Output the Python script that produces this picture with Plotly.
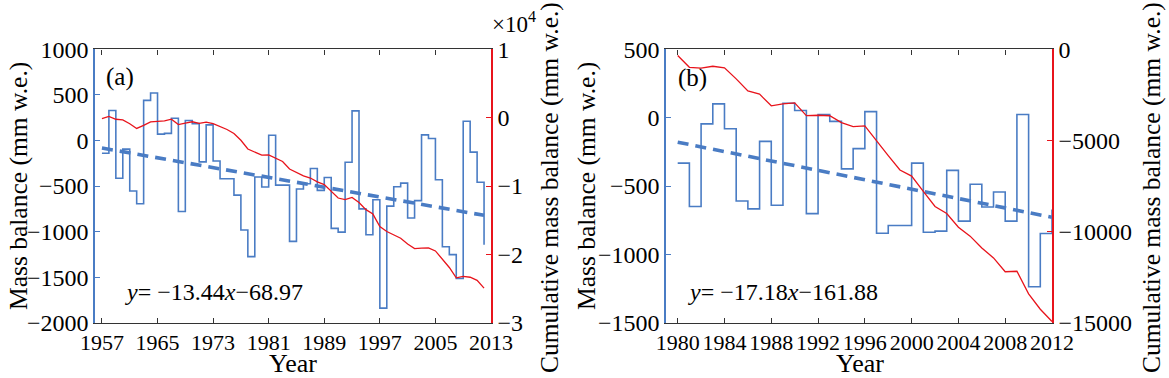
import plotly.graph_objects as go

# ---------------- data ----------------
years_a = list(range(1957, 2013))
mb_a = [-140, 330, -415, -95, -555, -695, 440, 522, 70, 78,
        245, -780, 220, 185, -235, 172, -225, -420, -420, -600,
        -982, -1275, -400, -510, 58, -490, -490, -1107, -532, -475,
        -307, -548, -406, -965, -1006, -239, 325, -750, -1034, -650,
        -1840, -720, -508, -468, -851, -660, 62, 22, -431, -1167,
        -1253, -1515, 212, -128, -458, -1143]
cum_a = [-140, 190, -225, -320, -875, -1570, -1130, -608, -538, -460,
         -215, -995, -775, -590, -825, -653, -878, -1298, -1718, -2318,
         -3300, -4575, -4975, -5485, -5427, -5917, -6407, -7514, -8046, -8521,
         -8828, -9376, -9782, -10747, -11753, -11992, -11667, -12417, -13451, -14101,
         -15941, -16661, -17169, -17637, -18488, -19148, -19086, -19064, -19495, -20662,
         -21915, -23430, -23218, -23346, -23804, -24947]
slope_a, icpt_a = -13.44, -68.97

years_b = list(range(1980, 2013))
mb_b = [-332, -650, -45, 101, -81, -609, -667, -173, -640, 106,
        53, -702, 24, -27, -374, -226, 45, -845, -789, -789,
        -332, -838, -830, -385, -757, -487, -653, -543, -757, 24,
        -1237, -847, -672]
cum_b = [-332, -982, -1027, -926, -1007, -1616, -2283, -2456, -3096, -2990,
         -2937, -3639, -3615, -3642, -4016, -4242, -4197, -5042, -5831, -6620,
         -6952, -7790, -8620, -9005, -9762, -10249, -10902, -11445, -12202, -12178,
         -13415, -14262, -14934]
slope_b, icpt_b = -17.18, -161.88

right_a_vals = [-30000, -20000, -10000, 0, 10000]
right_a_text = ["\u22123", "\u22122", "\u22121", "0", "1"]

# ---------------- style ----------------
W, H = 1169, 378
FONT = "Liberation Serif, Times New Roman, serif"
BLUE = "#4a7cc4"
RED = "#e8141c"
DARK = "#333333"
XTICK = 22
YTICK = 24
TITLE = 25.5

def px_x(p):
    return p / W

def px_y(p):
    return (H - p) / H

ydom = [px_y(322.7), px_y(49.4)]
xdom_a = [px_x(95), px_x(491)]
xdom_b = [px_x(666), px_x(1052)]

fig = go.Figure()

# panel a
fig.add_trace(go.Scatter(x=years_a, y=mb_a, mode="lines", line=dict(color=BLUE, width=1.6, shape="hv"),
                         xaxis="x", yaxis="y"))
fig.add_trace(go.Scatter(x=[years_a[0], years_a[-1]],
                         y=[slope_a * 1 + icpt_a, slope_a * len(years_a) + icpt_a],
                         mode="lines", line=dict(color=BLUE, width=3.6, dash="11px,7px"),
                         xaxis="x", yaxis="y"))
fig.add_trace(go.Scatter(x=years_a, y=cum_a, mode="lines", line=dict(color=RED, width=1.3),
                         xaxis="x", yaxis="y2"))

# panel b
fig.add_trace(go.Scatter(x=years_b, y=mb_b, mode="lines", line=dict(color=BLUE, width=1.6, shape="hv"),
                         xaxis="x2", yaxis="y3"))
fig.add_trace(go.Scatter(x=[years_b[0], years_b[-1]],
                         y=[slope_b * 1 + icpt_b, slope_b * len(years_b) + icpt_b],
                         mode="lines", line=dict(color=BLUE, width=3.6, dash="11px,7px"),
                         xaxis="x2", yaxis="y3"))
fig.add_trace(go.Scatter(x=years_b, y=cum_b, mode="lines", line=dict(color=RED, width=1.3),
                         xaxis="x2", yaxis="y4"))

xcommon = dict(showline=True, linecolor=DARK, linewidth=1.2, mirror="ticks", ticks="inside",
               ticklen=5, tickcolor=DARK, showgrid=False, zeroline=False, automargin=False,
               tickangle=0, tickfont=dict(family=FONT, size=XTICK, color="black"))
ycommon = dict(showline=True, linewidth=1.5, ticks="inside", ticklen=5, showgrid=False,
               zeroline=False, automargin=False, tickformat="d",
               tickfont=dict(family=FONT, size=YTICK, color="black"))

fig.update_layout(
    template="none",
    width=W, height=H, margin=dict(l=0, r=0, t=0, b=0, autoexpand=False),
    paper_bgcolor="white", plot_bgcolor="white", showlegend=False,
    font=dict(family=FONT, color="black"),
    xaxis=dict(domain=xdom_a, range=[1956, 2013], tick0=1957, dtick=8, anchor="y", **xcommon),
    yaxis=dict(domain=ydom, range=[-2000, 1000], dtick=500, anchor="x",
               linecolor=BLUE, tickcolor=BLUE, **ycommon),
    yaxis2=dict(range=[-30000, 10000], tickvals=right_a_vals, ticktext=right_a_text,
                overlaying="y", side="right", anchor="x",
                linecolor=RED, tickcolor=RED, **ycommon),
    xaxis2=dict(domain=xdom_b, range=[1979, 2012], tick0=1980, dtick=4, anchor="y3", **xcommon),
    yaxis3=dict(domain=ydom, range=[-1500, 500], dtick=500, anchor="x2",
                linecolor=BLUE, tickcolor=BLUE, **ycommon),
    yaxis4=dict(range=[-15000, 0], dtick=5000, overlaying="y3", side="right", anchor="x2",
                linecolor=RED, tickcolor=RED, **ycommon),
)

def ann(text, x, y, size, angle=0, xanchor="center"):
    fig.add_annotation(text=text, x=px_x(x), y=px_y(y), xref="paper", yref="paper",
                       showarrow=False, textangle=angle, xanchor=xanchor, yanchor="middle",
                       font=dict(family=FONT, size=size, color="black"))

# axis titles
ann("Mass balance (mm w.e.)", 18, 186, TITLE, -90)
ann("Cumulative mass balance (mm w.e.)", 549, 188, TITLE, -90)
ann("Mass balance (mm w.e.)", 586, 186, TITLE, -90)
ann("Cumulative mass balance (mm w.e.)", 1151, 188, TITLE, -90)
ann("Year", 293, 363, 26)
ann("Year", 860, 363, 26)

# panel labels, equations, exponent
ann("(a)", 120, 77, 25)
ann("(b)", 692, 78, 25)
ann("<i>y</i>= \u221213.44<i>x</i>\u221268.97", 123, 292, 24, xanchor="left")
ann("<i>y</i>= \u221217.18<i>x</i>\u2212161.88", 686, 292, 24, xanchor="left")
ann("\u00d710<sup>4</sup>", 514, 22, 23)

fig.write_html("out.html", config={"displayModeBar": False},
               post_script="document.body.style.margin='0';document.body.style.padding='0';document.body.style.overflow='hidden';")
